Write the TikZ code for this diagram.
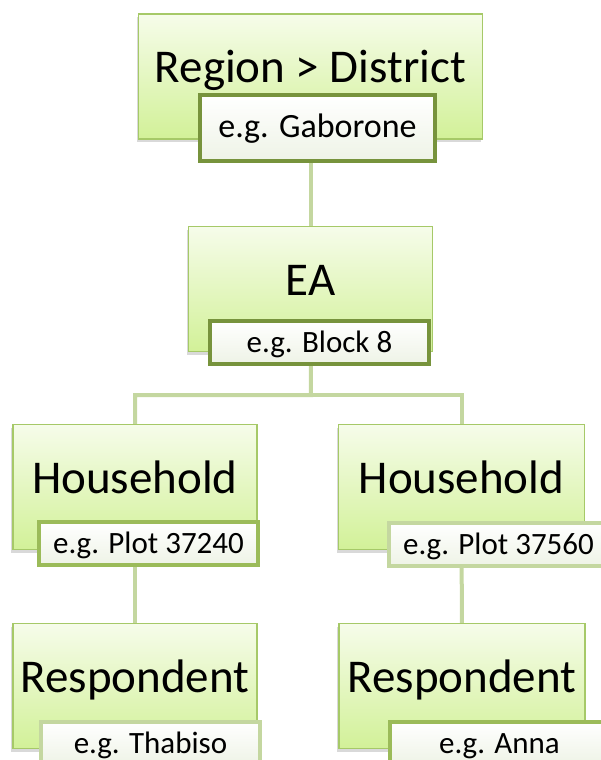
\documentclass[tikz,border=0pt]{standalone}
\usepackage{fontspec}
\setmainfont{Carlito}
\usetikzlibrary{positioning}
\usetikzlibrary{shadows}
\usetikzlibrary{backgrounds}

\definecolor{boxtop}{RGB}{246,252,234}
\definecolor{boxbot}{RGB}{210,241,152}
\definecolor{boxedge}{RGB}{166,201,104}
\definecolor{tagfill}{RGB}{238,243,230}
\definecolor{tagdark}{RGB}{119,147,60}
\definecolor{tagmid}{RGB}{155,187,89}
\definecolor{tagpale}{RGB}{196,215,160}
\definecolor{linkgreen}{RGB}{196,215,160}

\tikzset{
  tierbox/.style={rectangle, draw=boxedge, line width=1.5pt, top color=boxtop, bottom color=boxbot,
    minimum width=244pt, minimum height=125pt, inner sep=0pt,
    font=\fontsize{47}{56}\selectfont, text height=34pt, text depth=22pt,
    drop shadow={shadow xshift=-2pt, shadow yshift=-3pt, opacity=0.3}},
  examplebox/.style={rectangle, line width=4pt, top color=white, bottom color=tagfill,
    minimum width=219pt, minimum height=43pt, inner sep=0pt,
    font=\fontsize{31}{37}\selectfont, text height=24pt, text depth=5pt},
  joiner/.style={draw=linkgreen, line width=4pt}
}

\begin{document}
\begin{tikzpicture}[x=1pt,y=-1pt]
\useasboundingbox (0,0) rectangle (600,760);

% top level
\node[tierbox, minimum width=344pt] (region) at (310.5,76.5) {Region > District};
\node[examplebox, draw=tagdark, minimum width=235pt, minimum height=66pt,
  font=\fontsize{34}{40}\selectfont, text height=25pt, text depth=6pt] (gaborone) at (317.5,128) {e.g. Gaborone};

% enumeration area
\node[tierbox] (ea) at (310.5,289) {EA};
\node[examplebox, draw=tagdark] (block) at (319.5,342.5) {e.g. Block 8};

% households
\node[tierbox] (hhL) at (135,487) {Household};
\node[examplebox, draw=tagmid] (plotL) at (148.5,543.5) {e.g. Plot 37240};
\node[tierbox, minimum width=246pt] (hhR) at (461.5,487) {Household};
\node[examplebox, draw=tagpale] (plotR) at (498.5,544.5) {e.g. Plot 37560};

% respondents
\node[tierbox] (respL) at (135,686) {Respondent};
\node[examplebox, draw=tagpale] (thabiso) at (150.5,743.5) {e.g. Thabiso};
\node[tierbox, minimum width=246pt] (respR) at (462,686) {Respondent};
\node[examplebox, draw=tagmid] (anna) at (499.5,743.5) {e.g. Anna};

\begin{scope}[on background layer]
\coordinate (bus) at (311,395);
\draw[joiner] (region) -- (ea);
\draw[joiner] (ea) -- (bus) -| (hhL);
\draw[joiner] (bus) -| (hhR);
\draw[joiner] (hhL) -- (respL);
\draw[joiner] (hhR) -- (respR);
\end{scope}

\end{tikzpicture}
\end{document}
